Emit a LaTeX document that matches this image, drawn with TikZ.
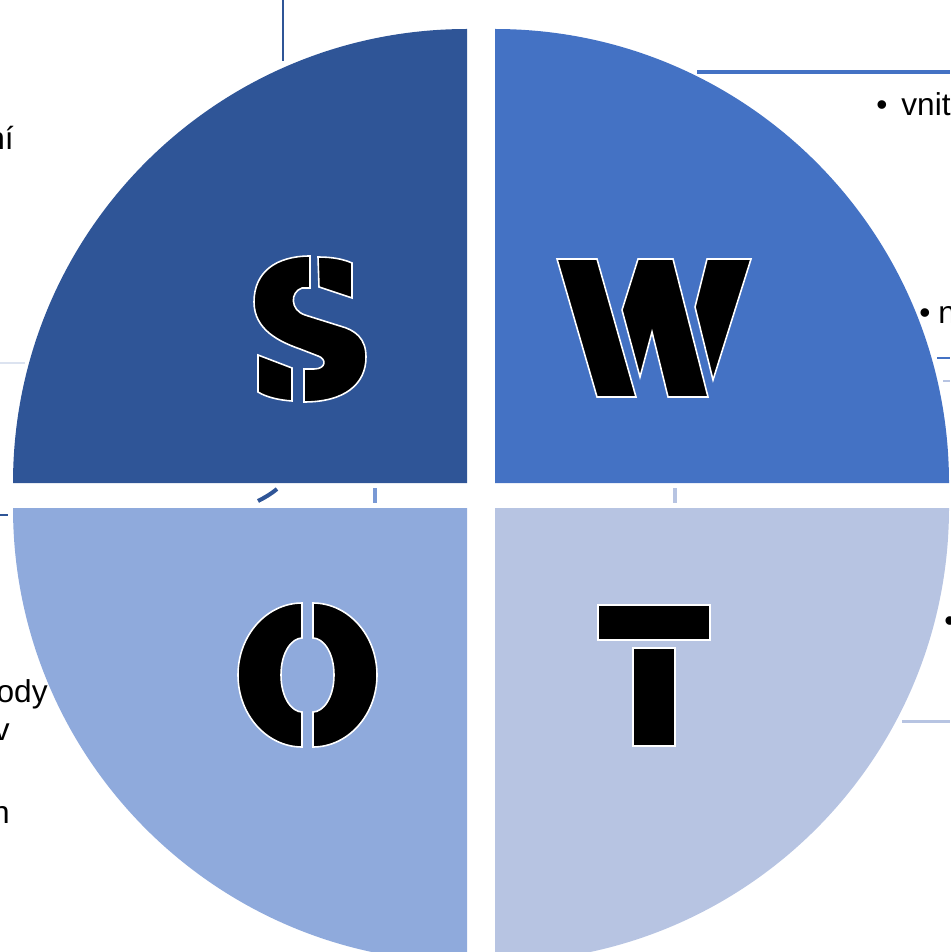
\documentclass[tikz,border=0pt]{standalone}
\usepackage{fontspec}
\setmainfont{Liberation Sans}
\usepackage{tikz}
\usetikzlibrary{positioning}
\definecolor{scol}{HTML}{2F5597}
\definecolor{wcol}{HTML}{4472C4}
\definecolor{ocol}{HTML}{8FAADC}
\definecolor{tcol}{HTML}{B7C4E2}
\definecolor{pale}{HTML}{DCE3F0}
\begin{document}
\begin{tikzpicture}[x=0.02cm,y=-0.02cm,
  glyph/.style={fill=black,draw=white,line width=0.9pt,line join=miter},
  thin/.style={line width=1.7pt},
  thick/.style={line width=2.3pt},
  txt/.style={font=\fontsize{18}{22}\selectfont,inner sep=0pt}]
\useasboundingbox (0,0) rectangle (950,952);
\clip (0,0) rectangle (950,952);
\draw[scol,thin] (283,0) -- (283,61);
\draw[wcol,thick] (697,72) -- (950,72);
\draw[wcol,thin] (937,358) -- (950,358);
\draw[tcol,thin] (943,381) -- (950,381);
\draw[pale,thin] (0,363) -- (25,363);
\draw[scol,thin] (0,515) -- (8,515);
\draw[scol,thick] (258,501) .. controls (264,498) and (271,494) .. (277,489);
\draw[ocol!70!wcol,thick] (375,488) -- (375,503);
\draw[tcol,thick] (675,488) -- (675,503);
\draw[tcol,thin] (902,721) -- (950,721);
\node[txt,anchor=base east] (ni) at (14,150) {ní};
\node[txt,anchor=base] (wbul) at (882,116) {•};
\node[txt,anchor=base west] (vnit) at (901,116) {vnit};
\node[txt,anchor=base] (nbul) at (925,324) {•};
\node[txt,anchor=base west] (nn) at (938,324) {n};
\node[txt,anchor=base east] (ody) at (48,702) {ody};
\node[txt,anchor=base east] (vv) at (10,740) {v};
\node[txt,anchor=base east] (nh) at (10,823) {n};
\node[txt,anchor=base] (tbul) at (950,631) {•};
\fill[scol] (467,483) -- (13,483) arc[start angle=180,end angle=270,radius=454] -- cycle;
\fill[wcol] (495,483) -- (495,29) arc[start angle=270,end angle=360,radius=454] -- cycle;
\fill[ocol] (467,508) -- (13,508) arc[start angle=180,end angle=90,radius=454] -- cycle;
\fill[tcol] (495,508) -- (949,508) arc[start angle=0,end angle=90,radius=454] -- cycle;
\draw[glyph] (310,256) .. controls (276,256) and (254,272) .. (254,302) .. controls (254,330) and (280,342) .. (300,349) -- (318,356) .. controls (327,359) and (326,369) .. (314,369) -- (304,369) -- (304,402) .. controls (345,402) and (366,384) .. (366,357) .. controls (366,338) and (355,330) .. (340,326) -- (305,315) .. controls (290,310) and (290,292) .. (302,288) -- (310,288) -- cycle;
\draw[glyph] (318,257) .. controls (332,257) and (343,259) .. (352,263) -- (352,298) -- (319,287) -- cycle;
\draw[glyph] (258,355) -- (292,368) -- (292,401) .. controls (278,400) and (266,397) .. (258,392) -- cycle;
\draw[glyph] (557,259) -- (597,259) -- (636,397) -- (597,397) -- cycle;
\draw[glyph] (638,259) -- (673,259) -- (708,397) -- (668,397) -- (652,332) -- (640,377) -- (622,310) -- cycle;
\draw[glyph] (707,259) -- (751,259) -- (713,380) -- (695,307) -- cycle;
\draw[glyph] (302,603) .. controls (267,603) and (238,635) .. (238,675) .. controls (238,715) and (267,747) .. (302,747) -- (302,712) .. controls (292,712) and (281,698) .. (281,675) .. controls (281,652) and (292,638) .. (302,638) -- cycle;
\draw[glyph] (313,603) .. controls (348,603) and (377,635) .. (377,675) .. controls (377,715) and (348,747) .. (313,747) -- (313,712) .. controls (323,712) and (334,698) .. (334,675) .. controls (334,652) and (323,638) .. (313,638) -- cycle;
\draw[glyph] (598,605) rectangle (710,640);
\draw[glyph] (633,648) rectangle (675,746);
\end{tikzpicture}
\end{document}
